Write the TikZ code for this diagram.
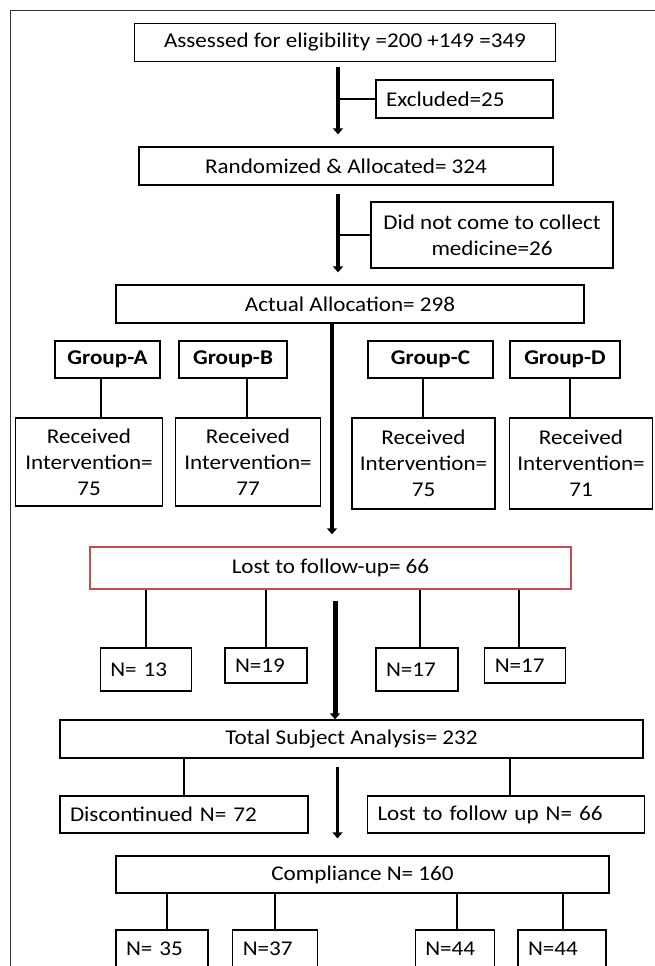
\documentclass[tikz,border=0pt]{standalone}
\usepackage{fontspec}
\setmainfont{Carlito}[FakeStretch=1.1]
\usepackage{xcolor}
\usetikzlibrary{arrows.meta,positioning}
\definecolor{lostred}{RGB}{192,80,77}
\tikzset{
	box/.style={draw, line width=1.3pt, inner sep=2pt, minimum height=38pt, align=center},
	lbox/.style={box, align=left, text width=#1, inner xsep=10pt}, % left aligned text
	grp/.style={box, minimum height=37pt, font=\fontsize{21}{26}\selectfont\bfseries},
	link/.style={line width=1.5pt},
	flow/.style={line width=3.5pt, -{Triangle[width=10pt,length=6pt]}}, % thick arrows
}

\begin{document}
\begin{tikzpicture}[x=1pt, y=-1pt, every node/.style={font=\fontsize{21}{26}\selectfont}]
	\useasboundingbox (0,0) rectangle (655,966);
	\clip (0,0) rectangle (655,966);
	\draw[line width=1pt, black!80] (655,11) -- (10,11) -- (10,966);

	\node[box, minimum width=421pt] (assess) at (345,42.5) {Assessed for eligibility =200 +149 =349};
	\node[lbox=157pt] (excl) at (464.5,99) {Excluded=25};
	\node[box, minimum width=414pt] (rand) at (346,166) {Randomized \& Allocated= 324};
	\node[box, minimum width=242pt, minimum height=66pt] (nocome) at (492,235) {Did not come to collect\\medicine=26};
	\node[box, minimum width=468pt] (actual) at (350,304) {Actual Allocation= 298};

	\node[grp, minimum width=105pt] (grpA) at (107.5,359.5) {Group-A};
	\node[grp, minimum width=108pt] (grpB) at (233,359.5) {Group-B};
	\node[grp, minimum width=125pt] (grpC) at (430.5,359.5) {Group-C};
	\node[grp, minimum width=110pt] (grpD) at (565,359.5) {Group-D};

	\node[box, minimum width=147.5pt, minimum height=88pt] (recA) at (89,462) {Received\\Intervention=\\75};
	\node[box, minimum width=144.5pt, minimum height=88pt] (recB) at (248,462) {Received\\Intervention=\\77};
	\node[box, minimum width=143pt, minimum height=91pt] (recC) at (423.5,463.5) {Received\\Intervention=\\75};
	\node[box, minimum width=142.5pt, minimum height=91pt] (recD) at (581,463.5) {Received\\Intervention=\\71};

	\node[box, draw=lostred, minimum width=481pt, minimum height=42pt] (lost) at (330.5,568) {Lost to follow-up= 66};

	\node[lbox=71.5pt, minimum height=43pt] (n13) at (146,669.5) {N= 13};
	\node[lbox=62pt, minimum height=35pt] (n19) at (266,665.5) {N=19};
	\node[lbox=62pt, minimum height=43pt] (n17a) at (417,669.5) {N=17};
	\node[lbox=60.5pt, minimum height=35pt] (n17b) at (525,665.5) {N=17};

	\node[box, minimum width=583pt] (total) at (351.5,739) {Total Subject Analysis= 232};
	\node[lbox=228pt, minimum height=37pt] (disc) at (184,814.5) {Discontinued N= 72};
	\node[lbox=257pt, minimum height=37pt] (lfu) at (506,814.5) {Lost to follow up N= 66};
	\node[box, minimum width=493pt, minimum height=37pt] (comp) at (362.5,874.5) {Compliance N= 160};

	\node[lbox=72pt] (n35) at (162,949) {N= 35};
	\node[lbox=64.5pt] (n37) at (275,949) {N=37};
	\node[lbox=59.5pt] (n44a) at (455,949) {N=44};
	\node[lbox=68pt] (n44b) at (562,949) {N=44};

	% main flow
	\coordinate (spine1) at (338,0);
	\coordinate (spine2) at (332,0);
	\coordinate (spine3) at (335,0);
	\coordinate (spine4) at (337.5,0);
	\draw[flow, shorten <=5pt, shorten >=12pt] (assess.south -| spine1) -- (rand.north -| spine1);
	\draw[link] (spine1 |- excl.west) -- (excl.west);
	\draw[flow, shorten <=8pt, shorten >=12pt] (rand.south -| spine1) -- (actual.north -| spine1);
	\draw[link] (spine1 |- nocome.west) -- (nocome.west);
	\draw[flow, shorten >=12pt] (actual.south -| spine2) -- (lost.north -| spine2);
	\draw[flow, line width=5pt, shorten <=11pt] (lost.south -| spine3) -- (total.north -| spine3);
	\draw[flow, shorten <=8pt, shorten >=17pt] (total.south -| spine4) -- (comp.north -| spine4);

	% branches
	\draw[link] ([xshift=-6.5pt]grpA.south) -- ([xshift=-6.5pt]grpA.south |- recA.north);
	\draw[link] ([xshift=14pt]grpB.south) -- ([xshift=14pt]grpB.south |- recB.north);
	\draw[link] ([xshift=-7.5pt]grpC.south) -- ([xshift=-7.5pt]grpC.south |- recC.north);
	\draw[link] ([xshift=5pt]grpD.south) -- ([xshift=5pt]grpD.south |- recD.north);

	\draw[link] (lost.south -| n13.north) -- (n13.north);
	\draw[link] (lost.south -| n19.north) -- (n19.north);
	\draw[link] ([xshift=3pt]n17a.north |- lost.south) -- ([xshift=3pt]n17a.north);
	\draw[link] ([xshift=-6pt]n17b.north |- lost.south) -- ([xshift=-6pt]n17b.north);

	\draw[link] (total.south -| disc.north) -- (disc.north);
	\draw[link] ([xshift=4pt]lfu.north |- total.south) -- ([xshift=4pt]lfu.north);

	\draw[link] ([xshift=5pt]n35.north |- comp.south) -- ([xshift=5pt]n35.north);
	\draw[link] (comp.south -| n37.north) -- (n37.north);
	\draw[link] ([xshift=2pt]n44a.north |- comp.south) -- ([xshift=2pt]n44a.north);
	\draw[link] ([xshift=1pt]n44b.north |- comp.south) -- ([xshift=1pt]n44b.north);
\end{tikzpicture}
\end{document}
